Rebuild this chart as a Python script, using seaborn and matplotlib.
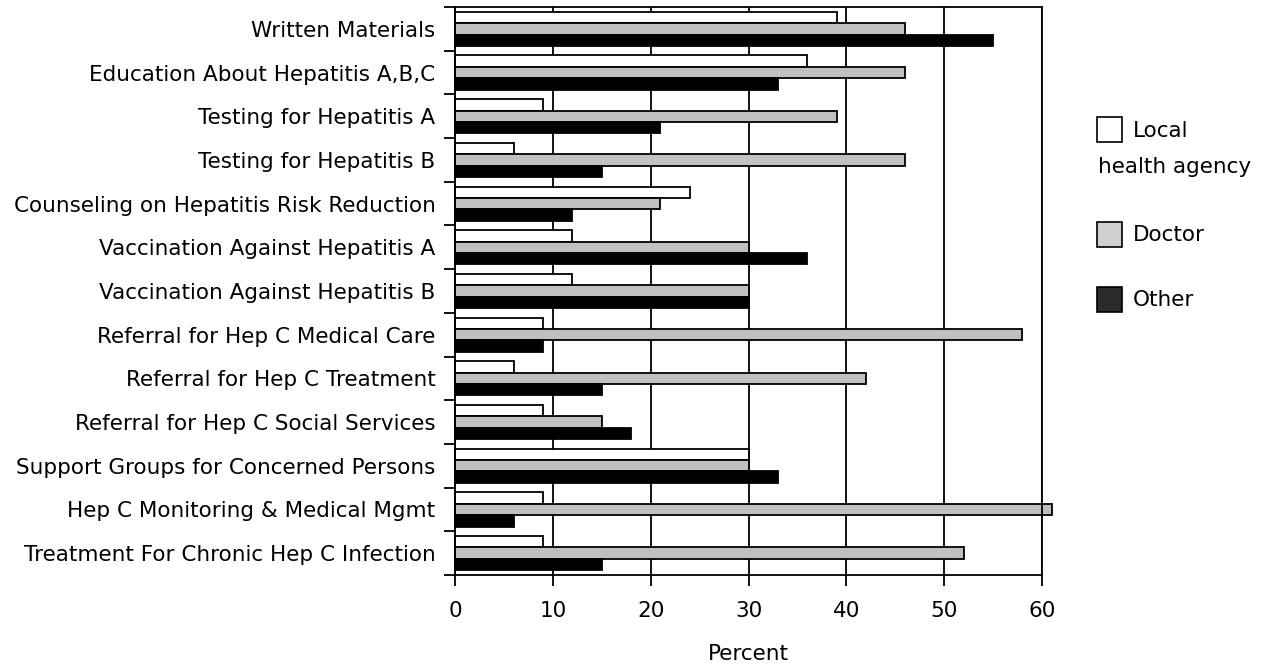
import matplotlib
matplotlib.use("Agg")
import matplotlib.pyplot as plt
from matplotlib.patches import Rectangle
from matplotlib.ticker import FixedLocator
import pandas as pd
import seaborn as sns

# Services offered, top to bottom
services = [
    "Written Materials",
    "Education About Hepatitis A,B,C",
    "Testing for Hepatitis A",
    "Testing for Hepatitis B",
    "Counseling on Hepatitis Risk Reduction",
    "Vaccination Against Hepatitis A",
    "Vaccination Against Hepatitis B",
    "Referral for Hep C Medical Care",
    "Referral for Hep C Treatment",
    "Referral for Hep C Social Services",
    "Support Groups for Concerned Persons",
    "Hep C Monitoring & Medical Mgmt",
    "Treatment For Chronic Hep C Infection",
]

sources = ["Local\nhealth agency", "Doctor", "Other"]

local_agency = [39, 36, 9, 6, 24, 12, 12, 9, 6, 9, 30, 9, 9]
doctor = [46, 46, 39, 46, 21, 30, 30, 58, 42, 15, 30, 61, 52]
other = [55, 33, 21, 15, 12, 36, 30, 9, 15, 18, 33, 6, 15]

x_ticks = [0, 10, 20, 30, 40, 50, 60]

bar_colors = ["#FFFFFF", "#C0C0C0", "#000000"]
key_colors = ["#FFFFFF", "#D0D0D0", "#2A2A2A"]

records = []
for name, vals in zip(sources, [local_agency, doctor, other]):
    for svc, v in zip(services, vals):
        records.append({"service": svc, "source": name, "pct": v})
df = pd.DataFrame(records)

sns.set_theme(style="white")
plt.rcParams["font.family"] = ["DejaVu Sans"]
plt.rcParams.update({
    "text.color": "black",
    "axes.labelcolor": "black",
    "xtick.color": "black",
    "ytick.color": "black",
})

FS = 15.5

fig = plt.figure(figsize=(12.75, 6.69), dpi=100)
ax = fig.add_axes([455 / 1275, 1 - 575 / 669, (1042 - 455) / 1275, (575 - 7) / 669])

sns.barplot(
    data=df, x="pct", y="service", hue="source",
    order=services, hue_order=sources, palette=bar_colors,
    orient="h", errorbar=None, width=0.78, gap=0,
    edgecolor="black", linewidth=1.3, legend=False, ax=ax,
)
for p in ax.patches:
    p.set_clip_on(False)

ax.set_xlim(0, 60)
ax.set_ylim(len(services) - 0.5, -0.5)
ax.set_xticks(x_ticks)
ax.set_xticklabels([str(t) for t in x_ticks], fontsize=FS)
ax.set_yticks(range(len(services)))
ax.set_yticklabels(services, fontsize=FS)

# Category separators as outward ticks on the left axis
ax.yaxis.set_minor_locator(FixedLocator([i - 0.5 for i in range(len(services) + 1)]))
ax.tick_params(axis="y", which="major", length=0, pad=14)
ax.tick_params(axis="y", which="minor", left=True, length=8, width=1.3, color="black", direction="out")
ax.tick_params(axis="x", which="major", bottom=True, length=8, width=1.3, color="black",
               direction="out", pad=11)

ax.set_axisbelow(True)
ax.grid(axis="x", color="black", linewidth=1.3)
ax.grid(axis="y", visible=False)
for s in ax.spines.values():
    s.set_visible(True)
    s.set_color("black")
    s.set_linewidth(1.3)

ax.set_ylabel("")
ax.set_xlabel("Percent", fontsize=FS, labelpad=16)

# Key on the right
key_x = 1097
key_size = 25
key_rows = [(117, "Local", 1133, 131), (222, "Doctor", 1133, 235), (287, "Other", 1133, 300)]
for (top, label, tx, ty), fc in zip(key_rows, key_colors):
    fig.patches.append(Rectangle(
        (key_x / 1275, 1 - (top + key_size) / 669), key_size / 1275, key_size / 669,
        transform=fig.transFigure, facecolor=fc, edgecolor="black", linewidth=1.2))
    fig.text(tx / 1275, 1 - ty / 669, label, fontsize=FS, ha="left", va="center")
fig.text(1098 / 1275, 1 - 167 / 669, "health agency", fontsize=FS, ha="left", va="center")

fig.savefig("out.png", dpi=100)
